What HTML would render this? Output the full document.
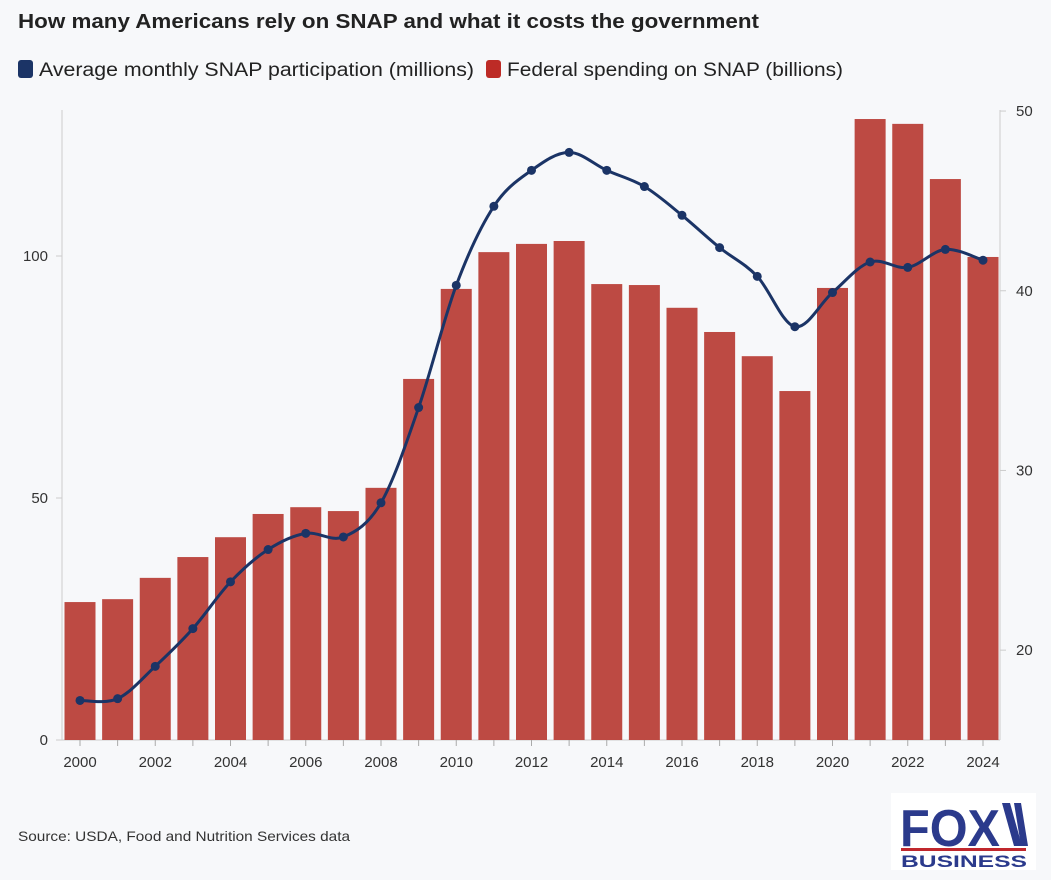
<!DOCTYPE html>
<html><head><meta charset="utf-8"><style>
body{margin:0;background:#f7f8fa;font-family:"Liberation Sans",sans-serif;}
#wrap{position:relative;width:1051px;height:880px;background:#f7f8fa;overflow:hidden}
</style></head><body>
<div id="wrap">
<svg id="svg" width="1051" height="880" xmlns="http://www.w3.org/2000/svg">
<text x="18" y="28" font-size="20" font-weight="bold" fill="#222" textLength="741" lengthAdjust="spacingAndGlyphs">How many Americans rely on SNAP and what it costs the government</text>
<g>
<g><rect x="18" y="60" width="15" height="18" rx="3" fill="#1b3466"/><text x="39" y="76" font-size="19" fill="#222" textLength="435" lengthAdjust="spacingAndGlyphs">Average monthly SNAP participation (millions)</text></g>
<g><rect x="486" y="60" width="15" height="18" rx="3" fill="#bd2b26"/><text x="507" y="76" font-size="19" fill="#222" textLength="336" lengthAdjust="spacingAndGlyphs">Federal spending on SNAP (billions)</text></g>
</g>
<g id="plot"></g>
<text x="18" y="841" font-size="14" fill="#333" textLength="332" lengthAdjust="spacingAndGlyphs">Source: USDA, Food and Nutrition Services data</text>
<g>
<rect x="891" y="793" width="145" height="77" fill="#fff"/>
<text x="900" y="846" font-size="52" font-weight="bold" fill="#2b3a8c" textLength="100" lengthAdjust="spacingAndGlyphs">FOX</text>
<polygon points="1002,803 1010,803 1022,846 1014,846" fill="#2b3a8c"/>
<polygon points="1014,803 1021,803 1028,846 1021,846" fill="#2b3a8c"/>
<rect x="901" y="848" width="125" height="3" fill="#c0272d"/>
<text x="901" y="867" font-size="17" font-weight="bold" fill="#2b3a8c" textLength="126" lengthAdjust="spacingAndGlyphs">BUSINESS</text>
</g>
</svg>
<script>
const years=[2000,2001,2002,2003,2004,2005,2006,2007,2008,2009,2010,2011,2012,2013,2014,2015,2016,2017,2018,2019,2020,2021,2022,2023,2024];
const spending=[28.5,29.1,33.5,37.8,41.9,46.7,48.1,47.3,52.1,74.6,93.2,100.8,102.5,103.1,94.2,94.0,89.3,84.3,79.3,72.1,93.4,128.3,127.3,115.9,99.8];
const participation=[17.2,17.3,19.1,21.2,23.8,25.6,26.5,26.3,28.2,33.5,40.3,44.7,46.7,47.7,46.7,45.8,44.2,42.4,40.8,38.0,39.9,41.6,41.3,42.3,41.7];
const leftTicks=[0,50,100];
const rightTicks=[20,30,40,50];
const NS="http://www.w3.org/2000/svg";
const g=document.getElementById('plot');
const x0=80,step=(983-80)/24;
const xs=i=>x0+i*step;
const yL=v=>740-v*4.84;
const yR=v=>740-(v-15)*17.97;
function el(t,a,p){const e=document.createElementNS(NS,t);for(const k in a)e.setAttribute(k,a[k]);(p||g).appendChild(e);return e;}
let a=el('line',{x1:62,y1:110,x2:62,y2:740,stroke:'#ccc'});


a=el('line',{x1:1000,y1:110,x2:1000,y2:740,stroke:'#ccc'});


a=el('line',{x1:62,y1:740,x2:1000,y2:740,stroke:'#ccc'});


leftTicks.forEach(v=>{const y=yL(v);el('line',{x1:56,y1:y,x2:62,y2:y,stroke:'#ccc'});
const t=el('text',{x:48,y:y+5,'font-size':15,fill:'#333','text-anchor':'end'});t.textContent=v;

});
rightTicks.forEach(v=>{const y=yR(v);el('line',{x1:1000,y1:y,x2:1006,y2:y,stroke:'#ccc'});
const t=el('text',{x:1016,y:y+5,'font-size':15,fill:'#333'});t.textContent=v;

});
years.forEach((yr,i)=>{
const b=el('rect',{x:xs(i)-15.5,y:yL(spending[i]),width:31,height:740-yL(spending[i]),fill:'#bd4a43'});


el('line',{x1:xs(i),y1:740,x2:xs(i),y2:746,stroke:'#aaa'});
if(i%2===0){const t=el('text',{x:xs(i),y:767,'font-size':15,fill:'#333','text-anchor':'middle'});t.textContent=yr;

}
});
const pts=participation.map((v,i)=>[xs(i),yR(v)]);
let d='M'+pts[0][0]+','+pts[0][1];
for(let i=0;i<pts.length-1;i++){const p0=pts[Math.max(0,i-1)],p1=pts[i],p2=pts[i+1],p3=pts[Math.min(pts.length-1,i+2)];
const c1=[p1[0]+(p2[0]-p0[0])/6,p1[1]+(p2[1]-p0[1])/6],c2=[p2[0]-(p3[0]-p1[0])/6,p2[1]-(p3[1]-p1[1])/6];
d+=` C${c1[0]},${c1[1]} ${c2[0]},${c2[1]} ${p2[0]},${p2[1]}`;}
const ln=el('path',{d:d,fill:'none',stroke:'#1b3466','stroke-width':3});


pts.forEach((p,i)=>{const c=el('circle',{cx:p[0],cy:p[1],r:4.5,fill:'#1b3466'});

});
</script>
</div>
</body></html>
